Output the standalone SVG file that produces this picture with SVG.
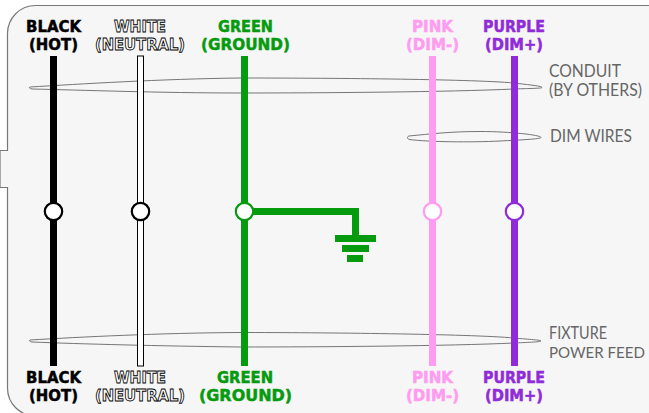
<svg xmlns="http://www.w3.org/2000/svg" width="649" height="413" viewBox="0 0 649 413">
<style>
.l{font-family:"DejaVu Sans",sans-serif;font-weight:700;font-size:16px;text-anchor:middle;stroke-width:.5px}
.k{fill:#000;stroke:#000}.w{fill:#fff;stroke:#000;stroke-width:.9px}.g{fill:#069a0e;stroke:#069a0e}.p{fill:#ff9bf0;stroke:#ff9bf0}.u{fill:#902bd8;stroke:#902bd8}
.n{font-family:Lato,"Liberation Sans",sans-serif;font-size:16.5px;fill:#666}
.c{fill:none;stroke:#666;stroke-width:.9}
.d{fill:#fff;stroke-width:2.2}
</style>
<rect width="649" height="413" fill="#fff"/>
<path id="panel" d="M0 150.500H7.500V33.500A28 28 0 0 1 35.500 5.500H661V416H35.500A28 28 0 0 1 7.500 388V187.500H0Z" fill="#f6f6f6" stroke="#777" stroke-width="1.2"/>
<g id="connectors">
<path class="c" id="conduit" d="M30 87C80 84 160 79 240 78C320 78 470 79 514 83C530 85 542 86 542 87.500C542 88.500 525 88.500 514 89C450 92 320 93 240 93C160 93 80 90 32 89C29 88.500 29 87.500 30 87Z"/>
<path class="c" id="dim-wires" d="M409 136C430 134 450 131.500 480 131.500C510 131.500 541 135 541 137.500C541 139 520 140 500 141C470 142.500 430 142 409 139.500C407 138.500 407 136.500 409 136Z"/>
<path class="c" id="feed" d="M30 340C80 337 160 333 240 332.500C320 332.500 470 334 514 338C530 339.500 541 340 541 341C541 342 525 342.500 514 343C450 346 320 347 240 347C160 346 80 344 32 342C29 341.500 29 340.500 30 340Z"/>
<path d="M53.500 56V366" fill="none" stroke="#000" stroke-width="7"/>
<rect x="137.500" y="56" width="6" height="310" fill="#fff" stroke="#000" stroke-width="1"/>
<path d="M244.500 56V366" fill="none" stroke="#069a0e" stroke-width="7"/>
<path d="M432.500 56V366" fill="none" stroke="#ff9bf0" stroke-width="7"/>
<path d="M514.500 56V366" fill="none" stroke="#902bd8" stroke-width="7"/>
<path d="M244.500 211.500H355.500V238" fill="none" stroke="#069a0e" stroke-width="7"/>
</g>
<g id="ground" fill="#069a0e"><rect x="335" y="235" width="41" height="7"/><rect x="342" y="245" width="27" height="7"/><rect x="347" y="255" width="16" height="7"/></g>
<g id="node-black"><circle class="d" cx="53.500" cy="211.500" r="8.700" stroke="#000"/>
<text class="l k" x="53.500" y="32" textLength="55" lengthAdjust="spacingAndGlyphs">BLACK</text><text class="l k" x="53.500" y="50" textLength="49" lengthAdjust="spacingAndGlyphs">(HOT)</text>
<text class="l k" x="53.500" y="383" textLength="55" lengthAdjust="spacingAndGlyphs">BLACK</text><text class="l k" x="53.500" y="401" textLength="49" lengthAdjust="spacingAndGlyphs">(HOT)</text></g>
<g id="node-white"><circle class="d" cx="140.500" cy="211.500" r="8.700" stroke="#000"/>
<text class="l w" x="140" y="32" textLength="52" lengthAdjust="spacingAndGlyphs">WHITE</text><text class="l w" x="140" y="50" textLength="90" lengthAdjust="spacingAndGlyphs">(NEUTRAL)</text>
<text class="l w" x="140" y="383" textLength="52" lengthAdjust="spacingAndGlyphs">WHITE</text><text class="l w" x="140" y="401" textLength="90" lengthAdjust="spacingAndGlyphs">(NEUTRAL)</text></g>
<g id="node-green"><circle class="d" cx="244.500" cy="211.500" r="8.700" stroke="#069a0e"/>
<text class="l g" x="245.500" y="32" textLength="55" lengthAdjust="spacingAndGlyphs">GREEN</text><text class="l g" x="245.500" y="50" textLength="89" lengthAdjust="spacingAndGlyphs">(GROUND)</text>
<text class="l g" x="245" y="383" textLength="56" lengthAdjust="spacingAndGlyphs">GREEN</text><text class="l g" x="245.500" y="401" textLength="93" lengthAdjust="spacingAndGlyphs">(GROUND)</text></g>
<g id="node-pink"><circle class="d" cx="432.500" cy="211.500" r="8.700" stroke="#ff9bf0"/>
<text class="l p" x="432.500" y="32" textLength="41" lengthAdjust="spacingAndGlyphs">PINK</text><text class="l p" x="432.500" y="50" textLength="53" lengthAdjust="spacingAndGlyphs">(DIM-)</text>
<text class="l p" x="432.500" y="383" textLength="41" lengthAdjust="spacingAndGlyphs">PINK</text><text class="l p" x="432.500" y="401" textLength="53" lengthAdjust="spacingAndGlyphs">(DIM-)</text></g>
<g id="node-purple"><circle class="d" cx="514.500" cy="211.500" r="8.700" stroke="#902bd8"/>
<text class="l u" x="514" y="32" textLength="62" lengthAdjust="spacingAndGlyphs">PURPLE</text><text class="l u" x="514" y="50" textLength="58" lengthAdjust="spacingAndGlyphs">(DIM+)</text>
<text class="l u" x="514" y="383" textLength="62" lengthAdjust="spacingAndGlyphs">PURPLE</text><text class="l u" x="514" y="401" textLength="58" lengthAdjust="spacingAndGlyphs">(DIM+)</text></g>
<g id="notes">
<text class="n" x="549" y="77" textLength="72" lengthAdjust="spacingAndGlyphs">CONDUIT</text>
<text class="n" x="549" y="96" textLength="93" lengthAdjust="spacingAndGlyphs">(BY OTHERS)</text>
<text class="n" x="550" y="141.500" textLength="82" lengthAdjust="spacingAndGlyphs">DIM WIRES</text>
<text class="n" x="549" y="339" textLength="58" lengthAdjust="spacingAndGlyphs">FIXTURE</text>
<text class="n" x="549" y="358" textLength="96" lengthAdjust="spacingAndGlyphs" style="font-size:15.4px">POWER FEED</text>
</g>
</svg>
